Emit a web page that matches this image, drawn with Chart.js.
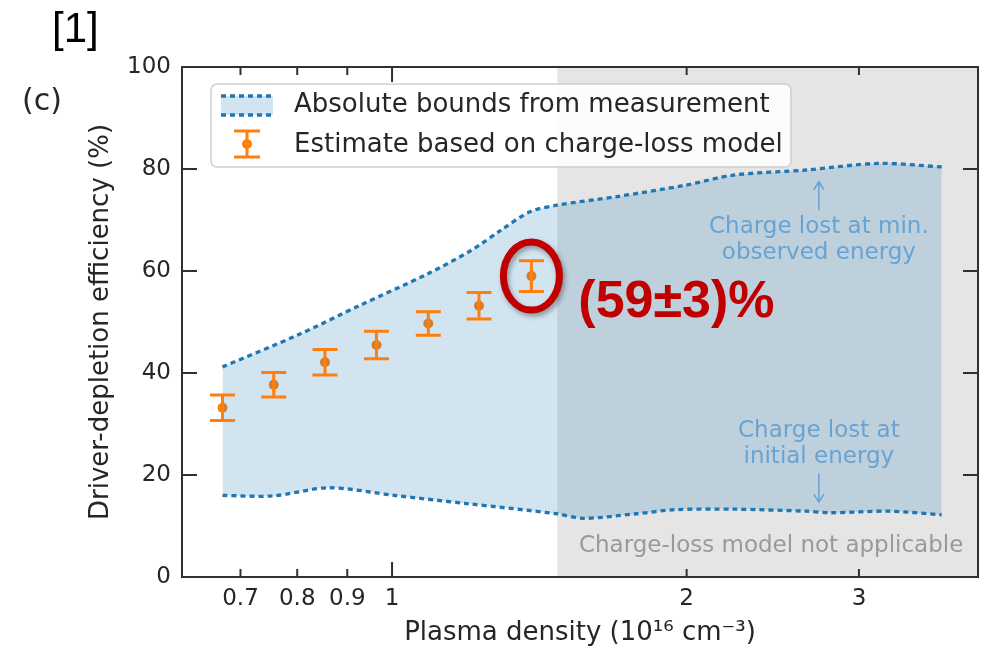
<!DOCTYPE html>
<html>
<head>
<meta charset="utf-8">
<script src="https://cdn.jsdelivr.net/npm/chart.js@4.4.0/dist/chart.umd.min.js"></script>
<style>
  html, body { margin: 0; padding: 0; background: #fff; }
</style>
</head>
<body>
<canvas id="depletionChart" width="990" height="650"></canvas>
<script>
// measured bounds: plasma density (1e16 cm^-3) vs efficiency (%)
const upperDensity = [0.671, 0.80, 0.928, 1.089, 1.206, 1.292, 1.383, 1.473, 1.698, 1.992, 2.233, 2.65, 3.144, 3.645];
const upperBound = [41.2, 47.4, 53.3, 59.5, 64.1, 68.0, 71.6, 72.9, 74.6, 76.8, 78.8, 79.8, 81.1, 80.4];
const lowerDensity = [0.671, 0.756, 0.862, 1.005, 1.192, 1.473, 1.567, 1.777, 1.947, 2.233, 2.65, 2.803, 3.216, 3.645];
const lowerBound = [16.0, 15.9, 17.5, 16.0, 14.4, 12.4, 11.5, 12.4, 13.2, 13.3, 12.9, 12.6, 12.9, 12.2];

// charge-loss model estimate with its uncertainty
const estDensity = [0.671, 0.757, 0.854, 0.964, 1.089, 1.227, 1.388];
const estValue = [33.2, 37.7, 42.1, 45.5, 49.7, 53.2, 59];
const estError = [2.5, 2.4, 2.5, 2.7, 2.3, 2.6, 3];

const densityTicks = [0.7, 0.8, 0.9, 1, 2, 3];
const efficiencyTicks = [0, 20, 40, 60, 80, 100];
const modelLimit = 1.475; // model not applicable above this density

const BLUE = "#1f77b4";
const ORANGE = "#ff7f0e";
const NOTE_BLUE = "#67a3d3";
const AXIS = "#303030";
const TEXT = "#262626";

Chart.defaults.font.family = "'DejaVu Sans', sans-serif";
Chart.defaults.color = TEXT;

const toPoints = (xs, ys) => xs.map((x, i) => ({ x: x, y: ys[i] }));

function arrow(ctx, x, y0, y1) {
  const dir = y1 < y0 ? 1 : -1;
  ctx.beginPath();
  ctx.moveTo(x, y0);
  ctx.lineTo(x, y1);
  ctx.moveTo(x - 5, y1 + dir * 8);
  ctx.lineTo(x, y1);
  ctx.lineTo(x + 5, y1 + dir * 8);
  ctx.stroke();
}

const overlay = {
  id: "overlay",
  beforeDatasetsDraw(chart) {
    const { ctx, chartArea: a, scales: { x } } = chart;
    const x0 = x.getPixelForValue(modelLimit);
    ctx.save();
    ctx.fillStyle = "rgba(0,0,0,0.1)";
    ctx.fillRect(x0, a.top, a.right - x0, a.bottom - a.top);
    ctx.restore();
  },
  afterDatasetsDraw(chart) {
    const { ctx, scales: { x, y } } = chart;
    ctx.save();
    ctx.strokeStyle = ORANGE;
    ctx.lineWidth = 3;
    estDensity.forEach((d, i) => {
      const px = x.getPixelForValue(d);
      const hi = y.getPixelForValue(estValue[i] + estError[i]);
      const lo = y.getPixelForValue(estValue[i] - estError[i]);
      ctx.beginPath();
      ctx.moveTo(px, hi); ctx.lineTo(px, lo);
      ctx.moveTo(px - 12.5, hi); ctx.lineTo(px + 12.5, hi);
      ctx.moveTo(px - 12.5, lo); ctx.lineTo(px + 12.5, lo);
      ctx.stroke();
    });
    ctx.restore();
  },
  afterDraw(chart) {
    const { ctx, chartArea: a, scales: { x, y } } = chart;
    ctx.save();

    // frame and inward ticks
    ctx.strokeStyle = AXIS;
    ctx.lineWidth = 2;
    ctx.strokeRect(a.left, a.top, a.right - a.left, a.bottom - a.top);
    densityTicks.forEach(v => {
      const px = x.getPixelForValue(v);
      const len = v === 1 ? 15 : 8;
      ctx.beginPath();
      ctx.moveTo(px, a.bottom); ctx.lineTo(px, a.bottom - len);
      ctx.moveTo(px, a.top); ctx.lineTo(px, a.top + len);
      ctx.stroke();
    });
    efficiencyTicks.forEach(v => {
      const py = y.getPixelForValue(v);
      ctx.beginPath();
      ctx.moveTo(a.left, py); ctx.lineTo(a.left + 15, py);
      ctx.moveTo(a.right, py); ctx.lineTo(a.right - 15, py);
      ctx.stroke();
    });

    // legend
    const lx = a.left + 29, ly = a.top + 17;
    ctx.beginPath();
    ctx.roundRect(lx, ly, 580, 83, 6);
    ctx.fillStyle = "rgba(255,255,255,0.85)";
    ctx.fill();
    ctx.strokeStyle = "#d0d0d0";
    ctx.lineWidth = 1.5;
    ctx.stroke();

    ctx.fillStyle = "rgba(31,119,180,0.2)";
    ctx.fillRect(lx + 10, ly + 12, 52, 19);
    ctx.strokeStyle = BLUE;
    ctx.lineWidth = 3.3;
    ctx.setLineDash([5, 4]);
    ctx.beginPath();
    ctx.moveTo(lx + 10, ly + 12); ctx.lineTo(lx + 62, ly + 12);
    ctx.moveTo(lx + 10, ly + 31); ctx.lineTo(lx + 62, ly + 31);
    ctx.stroke();
    ctx.setLineDash([]);

    const ex = lx + 36;
    ctx.strokeStyle = ORANGE;
    ctx.lineWidth = 3;
    ctx.beginPath();
    ctx.moveTo(ex, ly + 47); ctx.lineTo(ex, ly + 73);
    ctx.moveTo(ex - 13, ly + 47); ctx.lineTo(ex + 13, ly + 47);
    ctx.moveTo(ex - 13, ly + 73); ctx.lineTo(ex + 13, ly + 73);
    ctx.stroke();
    ctx.fillStyle = ORANGE;
    ctx.beginPath();
    ctx.arc(ex, ly + 60, 5, 0, Math.PI * 2);
    ctx.fill();

    ctx.fillStyle = TEXT;
    ctx.font = "26px 'DejaVu Sans'";
    ctx.textBaseline = "middle";
    ctx.textAlign = "left";
    ctx.fillText(chart.data.datasets[0].label, lx + 83, ly + 21);
    ctx.fillText(chart.data.datasets[2].label, lx + 83, ly + 61);

    // notes on the bounds
    ctx.font = "23px 'DejaVu Sans'";
    ctx.textBaseline = "alphabetic";
    ctx.textAlign = "center";
    ctx.fillStyle = NOTE_BLUE;
    ctx.strokeStyle = NOTE_BLUE;
    ctx.lineWidth = 1.5;
    const nx = x.getPixelForValue(2.73);
    ctx.fillText("Charge lost at min.", nx, y.getPixelForValue(67.4));
    ctx.fillText("observed energy", nx, y.getPixelForValue(62.4));
    arrow(ctx, nx, y.getPixelForValue(71.9), y.getPixelForValue(77.5));
    ctx.fillText("Charge lost at", nx, y.getPixelForValue(27.4));
    ctx.fillText("initial energy", nx, y.getPixelForValue(22.3));
    arrow(ctx, nx, y.getPixelForValue(20.3), y.getPixelForValue(14.7));

    ctx.fillStyle = "#999999";
    ctx.fillText("Charge-loss model not applicable", x.getPixelForValue(2.44), y.getPixelForValue(4.85));

    // highlighted last estimate
    const last = estDensity.length - 1;
    const cx = x.getPixelForValue(estDensity[last]);
    const cy = y.getPixelForValue(estValue[last]);
    ctx.save();
    ctx.shadowColor = "rgba(0,0,0,0.35)";
    ctx.shadowBlur = 5;
    ctx.shadowOffsetX = 2;
    ctx.shadowOffsetY = 3;
    ctx.strokeStyle = "#c00000";
    ctx.lineWidth = 7;
    ctx.beginPath();
    ctx.ellipse(cx, cy, 28, 34, 0, 0, Math.PI * 2);
    ctx.stroke();
    ctx.restore();

    ctx.fillStyle = "#c00000";
    ctx.font = "bold 52px 'Liberation Sans'";
    ctx.textAlign = "left";
    ctx.fillText("(" + estValue[last] + "\u00b1" + estError[last] + ")%", x.getPixelForValue(1.55), y.getPixelForValue(51));

    // panel labels
    ctx.fillStyle = TEXT;
    ctx.font = "30px 'DejaVu Sans'";
    ctx.textBaseline = "middle";
    ctx.fillText("(c)", 22, 102);
    ctx.fillStyle = "#000";
    ctx.font = "42px 'Liberation Sans'";
    ctx.fillText("[1]", 52, 30);

    ctx.restore();
  }
};

new Chart(document.getElementById("depletionChart"), {
  type: "line",
  data: {
    datasets: [
      {
        label: "Absolute bounds from measurement",
        data: toPoints(upperDensity, upperBound),
        borderColor: BLUE,
        borderWidth: 3.3,
        borderDash: [5, 4],
        backgroundColor: "rgba(31,119,180,0.2)",
        fill: "+1",
        pointRadius: 0,
        tension: 0.3,
      },
      {
        label: "Lower bound",
        data: toPoints(lowerDensity, lowerBound),
        borderColor: BLUE,
        borderWidth: 3.3,
        borderDash: [5, 4],
        fill: false,
        pointRadius: 0,
        tension: 0.3,
      },
      {
        label: "Estimate based on charge-loss model",
        data: toPoints(estDensity, estValue),
        showLine: false,
        pointRadius: 5,
        pointBackgroundColor: ORANGE,
        pointBorderWidth: 0,
      },
    ],
  },
  options: {
    responsive: false,
    animation: false,
    devicePixelRatio: 1,
    layout: { padding: { top: 67, right: 12, left: 0, bottom: 0 } },
    plugins: {
      legend: { display: false },
      tooltip: { enabled: false },
    },
    scales: {
      x: {
        type: "logarithmic",
        bounds: "data",
        min: 0.61,
        max: 3.97,
        afterBuildTicks: (s) => { s.ticks = densityTicks.map(v => ({ value: v })); },
        afterFit: (s) => { s.height = 73; },
        grid: { display: false, drawTicks: false },
        border: { display: false },
        ticks: {
          autoSkip: false,
          maxRotation: 0,
          padding: 8,
          font: { size: 23 },
          callback: (v) => String(v),
        },
        title: {
          display: true,
          text: "Plasma density (10\u00b9\u2076 cm\u207b\u00b3)",
          font: { size: 26 },
          padding: { top: 0, bottom: 1.5 },
        },
      },
      y: {
        min: 0,
        max: 100,
        afterBuildTicks: (s) => { s.ticks = efficiencyTicks.map(v => ({ value: v })); },
        afterFit: (s) => { s.width = 182; },
        grid: { display: false, drawTicks: false },
        border: { display: false },
        ticks: { padding: 11, font: { size: 23 } },
        title: {
          display: true,
          text: "Driver-depletion efficiency (%)",
          font: { size: 26 },
          padding: { top: 85.5, bottom: 0 },
        },
      },
    },
  },
  plugins: [overlay],
});
</script>
</body>
</html>
